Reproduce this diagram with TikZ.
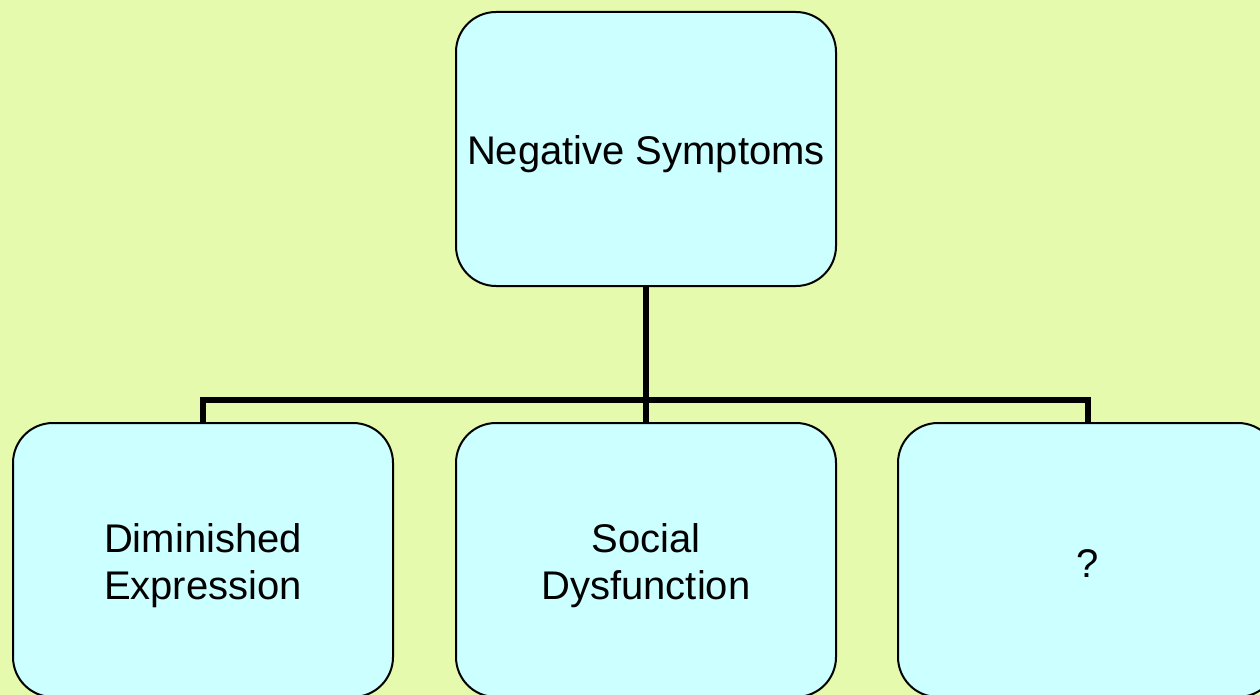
\documentclass[tikz,border=0pt]{standalone}
\usepackage{fontspec}
\setmainfont{Liberation Sans}
\definecolor{bgcol}{RGB}{229,250,172}
\definecolor{boxcol}{RGB}{204,255,255}
\newcommand{\boxtxt}[2][-7pt]{\raisebox{#1}[\height][\depth]{\begin{tabular}{@{}c@{}}#2\end{tabular}}}
\tikzset{
  box/.style={draw=black, line width=2pt, fill=boxcol, rounded corners=40pt,
    minimum width=380pt, minimum height=274pt, inner sep=0pt, align=center,
    font=\fontsize{40pt}{47pt}\selectfont},
  conn/.style={draw=black, line width=5.5pt, line cap=butt}
}
\begin{document}
\begin{tikzpicture}[x=1pt,y=-1pt]
\useasboundingbox (0,0) rectangle (1260,695);
\clip (0,0) rectangle (1260,695);
\fill[bgcol] (0,0) rectangle (1260,695);
\coordinate (hub) at (646,400);
\draw[conn] (646,287) -- (hub);
\draw[conn] (203,423) |- (hub) -| (1088,423);
\draw[conn] (hub) -- (646,423);
\node[box] (top) at (646,149) {\boxtxt[-6pt]{Negative Symptoms}};
\node[box] (b1) at (203,560) {\boxtxt{Diminished\\Expression}};
\node[box] (b2) at (646,560) {\boxtxt{Social\\Dysfunction}};
\node[box] (b3) at (1088,560) {\boxtxt[-8pt]{?}};
\end{tikzpicture}
\end{document}
